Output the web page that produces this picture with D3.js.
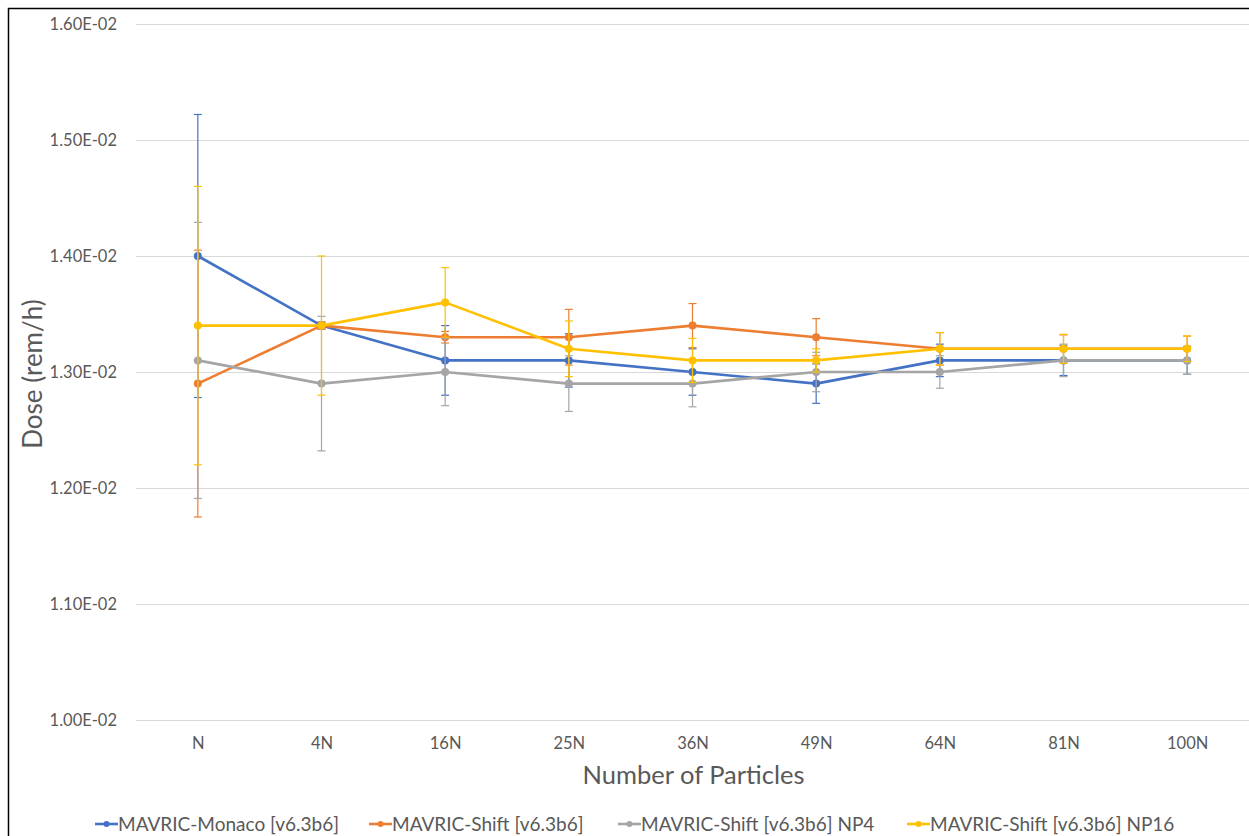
<!DOCTYPE html>
<html>
<head>
<meta charset="utf-8">
<script src="https://cdn.jsdelivr.net/npm/d3@7"></script>
<style>
  html, body { margin: 0; padding: 0; background: #fff; }
  svg { display: block; }
  text { font-family: Lato, "Open Sans", sans-serif; fill: #595959; }
</style>
</head>
<body>
<svg id="chart" width="1249" height="836"></svg>
<script>
const categories = ["N", "4N", "16N", "25N", "36N", "49N", "64N", "81N", "100N"];
const yTicks = [0.010, 0.011, 0.012, 0.013, 0.014, 0.015, 0.016];

const seriesNames = ["MAVRIC-Monaco [v6.3b6]", "MAVRIC-Shift [v6.3b6]", "MAVRIC-Shift [v6.3b6] NP4", "MAVRIC-Shift [v6.3b6] NP16"];
const seriesColors = ["#4472C4", "#ED7D31", "#A5A5A5", "#FFC000"];

const monacoValues = [0.0140, 0.0134, 0.0131, 0.0131, 0.0130, 0.0129, 0.0131, 0.0131, 0.0131];
const monacoErrors = [0.00122, 0.00003, 0.00030, 0.00023, 0.00020, 0.00017, 0.00014, 0.00013, 0.00012];

const shiftValues = [0.0129, 0.0134, 0.0133, 0.0133, 0.0134, 0.0133, 0.0132, 0.0132, 0.0132];
const shiftErrors = [0.00115, 0.00003, 0.00005, 0.00024, 0.00019, 0.00016, 0.00014, 0.00012, 0.00011];

const np4Values = [0.0131, 0.0129, 0.0130, 0.0129, 0.0129, 0.0130, 0.0130, 0.0131, 0.0131];
const np4Errors = [0.00119, 0.00058, 0.00029, 0.00024, 0.00020, 0.00017, 0.00014, 0.00014, 0.00012];

const np16Values = [0.0134, 0.0134, 0.0136, 0.0132, 0.0131, 0.0131, 0.0132, 0.0132, 0.0132];
const np16Errors = [0.00120, 0.00060, 0.00030, 0.00024, 0.00019, 0.00010, 0.00014, 0.000125, 0.00011];

const allValues = [monacoValues, shiftValues, np4Values, np16Values];
const allErrors = [monacoErrors, shiftErrors, np4Errors, np16Errors];

const svg = d3.select("#chart");
const margin = { left: 136, right: 0, top: 24, bottom: 116 };
const W = 1249, H = 836;

const x = d3.scalePoint().domain(categories).range([margin.left, W - margin.right]).padding(0.5);
const y = d3.scaleLinear().domain([0.010, 0.016]).range([H - margin.bottom, margin.top]);

// border
svg.append("rect").attr("x", 8.5).attr("y", 8.5).attr("width", 1400).attr("height", 1000)
  .attr("fill", "none").attr("stroke", "#000").attr("stroke-width", 1.5);

// gridlines
svg.append("g").selectAll("line").data(yTicks).join("line")
  .attr("x1", margin.left).attr("x2", W - margin.right)
  .attr("y1", d => Math.round(y(d)) + 0.5).attr("y2", d => Math.round(y(d)) + 0.5)
  .attr("stroke", "#D9D9D9").attr("stroke-width", 1);

// y axis labels
const yAxis = d3.axisLeft(y).tickValues(yTicks).tickSize(0).tickPadding(0)
  .tickFormat(d => { const s = d.toExponential(2).toUpperCase(); return s.replace(/E-(\d)$/, "E-0$1"); });
const gy = svg.append("g").attr("transform", `translate(117,0)`).call(yAxis);
gy.select(".domain").remove();
gy.selectAll("text").style("font-size", "16.5px").attr("fill", "#595959").style("font-family", "Lato, 'Open Sans', sans-serif");

// x axis labels
const xAxis = d3.axisBottom(x).tickSize(0).tickPadding(0);
const gx = svg.append("g").attr("transform", `translate(0,${H - margin.bottom + 17})`).call(xAxis);
gx.select(".domain").remove();
gx.selectAll("text").style("font-size", "16.5px").attr("fill", "#595959").style("font-family", "Lato, 'Open Sans', sans-serif");

// axis titles
svg.append("text").attr("x", (margin.left + W) / 2 + 1).attr("y", 784)
  .attr("text-anchor", "middle").style("font-size", "25.5px").text("Number of Particles");
svg.append("text").attr("transform", `translate(42,${y(0.013) + 2}) rotate(-90)`)
  .attr("text-anchor", "middle").style("font-size", "26px").text("Dose (rem/h)");

// series
const line = d3.line().x((d, i) => x(categories[i])).y(d => y(d));
allValues.forEach((vals, s) => {
  const g = svg.append("g");
  const color = seriesColors[s];
  const errs = allErrors[s];
  const eb = g.append("g").selectAll("g").data(vals).join("g");
  eb.append("line")
    .attr("x1", (d, i) => x(categories[i])).attr("x2", (d, i) => x(categories[i]))
    .attr("y1", (d, i) => y(d + errs[i])).attr("y2", (d, i) => y(d - errs[i]))
    .attr("stroke", color).attr("stroke-width", 1.2);
  [1, -1].forEach(sign => {
    eb.append("line")
      .attr("x1", (d, i) => x(categories[i]) - 4).attr("x2", (d, i) => x(categories[i]) + 4)
      .attr("y1", (d, i) => y(d + sign * errs[i])).attr("y2", (d, i) => y(d + sign * errs[i]))
      .attr("stroke", color).attr("stroke-width", 1.2);
  });
  g.append("path").datum(vals).attr("d", line).attr("fill", "none")
    .attr("stroke", color).attr("stroke-width", 2.6).attr("stroke-linejoin", "round");
  g.append("g").selectAll("circle").data(vals).join("circle")
    .attr("cx", (d, i) => x(categories[i])).attr("cy", d => y(d)).attr("r", 4)
    .attr("fill", color);
});

// legend
const legendX = [95, 369, 618, 907];
const lg = svg.append("g");
seriesNames.forEach((name, s) => {
  const g = lg.append("g").attr("transform", `translate(${legendX[s]},824)`);
  g.append("line").attr("x1", 0).attr("x2", 23).attr("y1", 0).attr("y2", 0)
    .attr("stroke", seriesColors[s]).attr("stroke-width", 2.6);
  g.append("circle").attr("cx", 11.5).attr("cy", 0).attr("r", 3).attr("fill", seriesColors[s]);
  g.append("text").attr("x", 23).attr("y", 7).style("font-size", "19px").text(name);
});
</script>
</body>
</html>
